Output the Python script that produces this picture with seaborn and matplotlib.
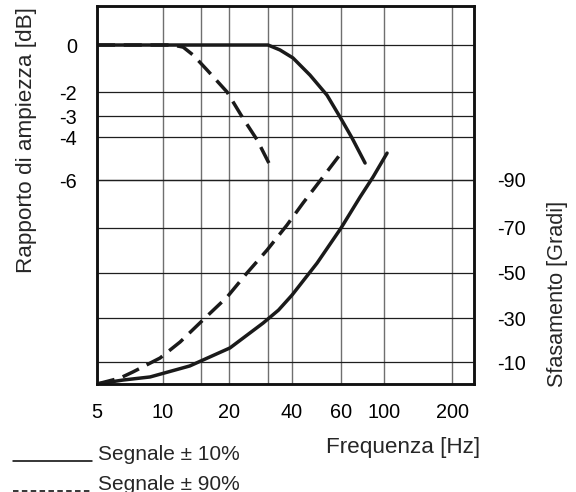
import numpy as np
import matplotlib
matplotlib.use("Agg")
import matplotlib.pyplot as plt
from matplotlib.lines import Line2D
from matplotlib.ticker import FixedLocator, NullLocator, FuncFormatter
import seaborn as sns

# ---------------- data ----------------
amp10_freq = [5, 30, 34.6, 40.3, 46.4, 53.4, 59.5, 68.4, 79.8]
amp10_db = [0, 0, -0.21, -0.55, -1.28, -2.13, -3.05, -4.05, -5.21]

amp90_freq = [5, 11.1, 12.4, 13.8, 15.95, 19.6, 23.1, 26.8, 30.3]
amp90_db = [0, 0, -0.09, -0.43, -1.06, -2.0, -3.10, -4.14, -5.21]

ph10_freq = [5, 6.57, 8.73, 13.3, 20.2, 28.5, 34.0, 40, 49.2, 60, 75.2, 87.8, 103.1]
ph10_deg = [0, -1.8, -3.2, -8.2, -16.4, -27.7, -33.5, -40.2, -54.4, -70, -82.9, -91.3, -101.2]

ph90_freq = [5, 6.37, 7.30, 9.69, 12.0, 15.3, 19.6, 24.1, 29.7, 37.7, 43.8, 51.7, 60.7]
ph90_deg = [0, -2.7, -5.5, -11.8, -19.1, -29.1, -39.3, -50, -60.2, -71.3, -80.4, -91.3, -101.7]

freq_labels = [5, 10, 20, 40, 60, 100, 200]
freq_grid = [5, 10, 15, 20, 30, 40, 60, 100, 200]
db_ticks = [0, -2, -3, -4, -6]
deg_ticks = [-90, -70, -50, -30, -10]

legend_labels = ["Segnale \u00b1 10%", "Segnale \u00b1 90%"]

# ---------------- drawn (non-uniform) graduations of the printed chart ----------------
X_KNOT_F = np.log10([1, 5, 10, 15, 20, 30, 40, 60, 100, 200, 1000])
X_KNOT_P = np.array([-56, 97, 163, 201, 229, 268, 292, 341, 384, 452, 610], float)

DB_KNOT = np.array([-30, -6, -4, -3, -2, 0, 10], float)
DB_POS = np.array([-312, 204, 247, 268, 292, 339, 574], float)

PH_KNOT = np.array([-400, -90, -70, -50, -30, -10, 0, 100], float)
PH_POS = np.array([-948, -204, -156, -111, -66, -22, 0, 220], float)


def x_fwd(f):
    f = np.asarray(f, float)
    return np.interp(np.log10(np.clip(f, 1e-6, None)), X_KNOT_F, X_KNOT_P)


def x_inv(p):
    return 10 ** np.interp(np.asarray(p, float), X_KNOT_P, X_KNOT_F)


def db_fwd(v):
    return np.interp(np.asarray(v, float), DB_KNOT, DB_POS)


def db_inv(p):
    return np.interp(np.asarray(p, float), DB_POS, DB_KNOT)


def ph_fwd(v):
    return np.interp(np.asarray(v, float), PH_KNOT, PH_POS)


def ph_inv(p):
    return np.interp(np.asarray(p, float), PH_POS, PH_KNOT)


# ---------------- figure ----------------
sns.set_style("white")
plt.rcParams["font.family"] = ["Liberation Sans", "DejaVu Sans"]

W, H = 576, 492
fig = plt.figure(figsize=(W / 100, H / 100), dpi=100)
L, R, T, B = 97, 474, 6, 384
ax = fig.add_axes([L / W, 1 - B / H, (R - L) / W, (B - T) / H])
ax2 = ax.twinx()

ax.set_xscale("function", functions=(x_fwd, x_inv))
ax.set_yscale("function", functions=(db_fwd, db_inv))
ax2.set_yscale("function", functions=(ph_fwd, ph_inv))

ink = "#1a1a1a"
lw = 2.5

sns.lineplot(x=amp10_freq, y=amp10_db, ax=ax, color=ink, linewidth=lw,
             solid_capstyle="round", solid_joinstyle="round", sort=False)
sns.lineplot(x=amp90_freq, y=amp90_db, ax=ax, color=ink, linewidth=lw,
             linestyle=(0, (5.2, 2.5)), dash_capstyle="butt", sort=False)
sns.lineplot(x=ph10_freq, y=ph10_deg, ax=ax2, color=ink, linewidth=lw,
             solid_capstyle="round", solid_joinstyle="round", sort=False)
sns.lineplot(x=ph90_freq, y=ph90_deg, ax=ax2, color=ink, linewidth=lw,
             linestyle=(0, (5.2, 2.5)), dash_capstyle="butt", sort=False)

ax.set_xlim(5, 250)
ax.set_ylim(-15.488, 1.66)
ax2.set_ylim(0, -90 - 174 / 2.4)

# ticks
ax.xaxis.set_major_locator(FixedLocator(freq_grid))
ax.xaxis.set_minor_locator(NullLocator())
ax.xaxis.set_major_formatter(FuncFormatter(
    lambda v, pos: (f"{v:g}" if any(abs(v - t) < 1e-6 for t in freq_labels) else "")))
ax.yaxis.set_major_locator(FixedLocator(db_ticks))
ax.yaxis.set_minor_locator(NullLocator())
ax.yaxis.set_major_formatter(FuncFormatter(lambda v, pos: f"{v:g}"))
ax2.yaxis.set_major_locator(FixedLocator(deg_ticks))
ax2.yaxis.set_minor_locator(NullLocator())
ax2.yaxis.set_major_formatter(FuncFormatter(lambda v, pos: f"{v:g}"))

ax.tick_params(axis="x", length=0, pad=13.5, labelsize=14.3, colors="black")
ax.tick_params(axis="y", length=0, pad=14.4, labelsize=14.3, colors="black")
ax2.tick_params(axis="y", length=0, pad=16.6, labelsize=14.3, colors="black")

# grid
ax.grid(False)
ax2.grid(False)
ax.xaxis.grid(True, color="#6f6f6f", linewidth=1.0)
ax.yaxis.grid(True, color="#1e1e1e", linewidth=0.9)
ax2.yaxis.grid(True, color="#1e1e1e", linewidth=0.9)

for a in (ax, ax2):
    for s in a.spines.values():
        s.set_color("#111111")
        s.set_linewidth(1.8)
    a.set_xlabel("")
    a.set_ylabel("")

# axis titles
fig.text(27 / W, 1 - 140.5 / H, "Rapporto di ampiezza [dB]", rotation=90,
         ha="center", va="center", fontsize=16.2)
fig.text(558 / W, 1 - 293.5 / H, "Sfasamento [Gradi]", rotation=90,
         ha="center", va="center", fontsize=15.6)
fig.text(403.5 / W, 1 - 448 / H, "Frequenza [Hz]", ha="center", va="center",
         fontsize=16.2)

# legend below the chart
fig.add_artist(Line2D([13 / W, 92 / W], [1 - 460.5 / H] * 2, transform=fig.transFigure,
                      color="black", linewidth=1.1))
fig.add_artist(Line2D([13 / W, 92 / W], [1 - 490.5 / H] * 2, transform=fig.transFigure,
                      color="black", linewidth=1.1, linestyle=(0, (3.6, 2.2)),
                      dash_capstyle="butt"))
fig.text(98 / W, 1 - 460 / H, legend_labels[0], ha="left", va="baseline", fontsize=15)
fig.text(98 / W, 1 - 489.5 / H, legend_labels[1], ha="left", va="baseline", fontsize=15)

fig.savefig("out.png", dpi=100)
